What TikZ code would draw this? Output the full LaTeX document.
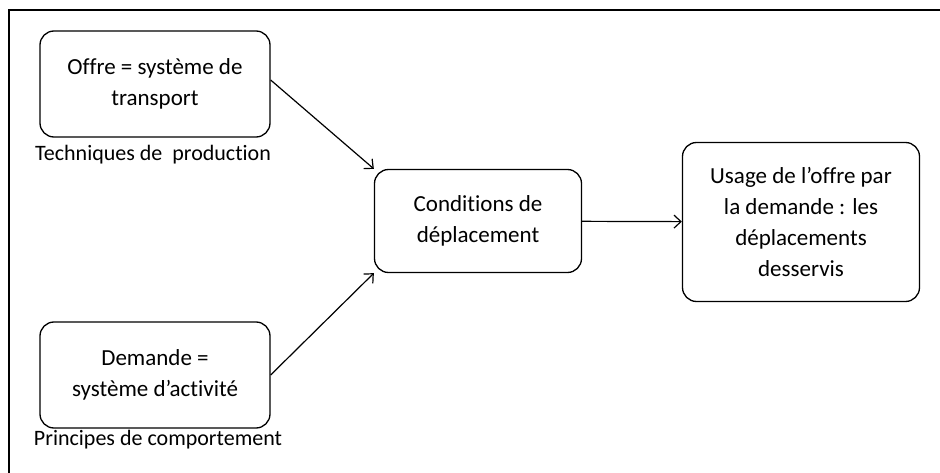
\documentclass[tikz,border=0pt]{standalone}
\usepackage{fontspec}
\setmainfont[Ligatures=NoCommon]{Carlito}
\usetikzlibrary{arrows.meta}
\begin{document}
\begin{tikzpicture}[x=1pt, y=-1pt,
    boite/.style={draw, line width=1.3pt, rounded corners=14pt, align=center,
      inner sep=0pt, font=\fontsize{23}{31}\selectfont},
    legende/.style={font=\fontsize{22}{28}\selectfont, inner sep=0pt},
    fleche/.style={-{Straight Barb[length=7pt, width=13pt]}, line width=1.2pt}]
      \useasboundingbox (0,0) rectangle (940,473);
      %
      \draw[line width=1.5pt] (9,473) -- (9,10) -- (940,10);   % frame
      %
      \node[boite, minimum width=230pt, minimum height=106pt] (offre) at (155,84)
        {Offre = système de\\transport};
      \node[legende] (tech) at (153,155) {Techniques de\ \ production};
      %
      \node[boite, minimum width=230pt, minimum height=106pt] (demande) at (155,375)
        {Demande =\\système d’activité};
      \node[legende] (princ) at (158,440) {Principes de comportement};
      %
      \node[boite, minimum width=207pt, minimum height=103pt] (cond) at (478,221)
        {Conditions de\\déplacement};
      %
      \node[boite, minimum width=237pt, minimum height=159pt] (usage) at (801,222)
        {Usage de l’offre par\\la demande : les\\déplacements\\desservis};
      %
      \draw[fleche] (offre.east) ++(0,-4) coordinate (o1) -- (cond.north west);
      \draw[fleche] (demande.east) -- (cond.south west);
      \draw[fleche] (cond) -- (usage);
      %
    \end{tikzpicture}
\end{document}
